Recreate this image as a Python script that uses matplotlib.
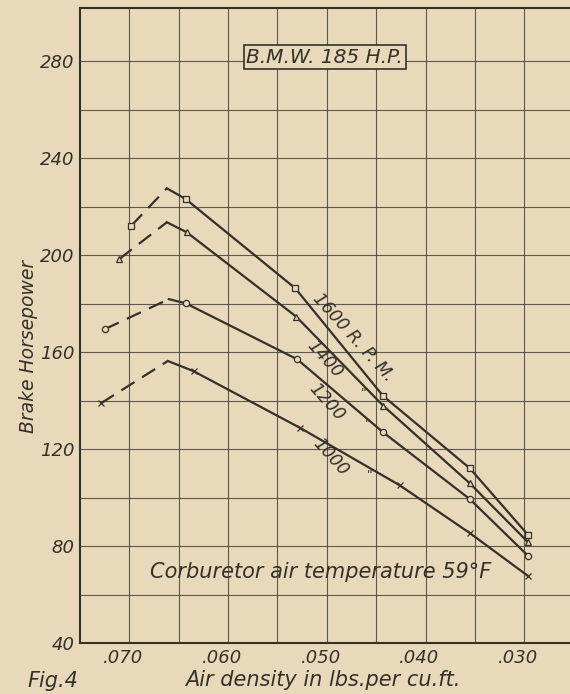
import matplotlib.pyplot as plt
import matplotlib.transforms as mtransforms
import numpy as np

# Lecture des courbes sur la figure (densite en lbs/cu.ft, puissance en HP)
rpm_labels = ['1600 R. P. M.', '1400', '1200', '1000']
markers = ['s', '^', 'o', 'x']

# premier point (partie en tirets) -> pic
first_dens = [0.0698, 0.0710, 0.0725, 0.0729]
first_hp = [212.1, 198.4, 169.4, 138.8]
peak_dens = [0.0662, 0.0662, 0.0660, 0.0661]
peak_hp = [227.5, 213.5, 181.8, 156.3]

# points mesures (partie pleine)
dens_1600 = [0.0643, 0.0532, 0.0443, 0.0355, 0.0296]
hp_1600 = [223.1, 186.3, 141.9, 112.0, 84.5]
dens_1400 = [0.0642, 0.0531, 0.0443, 0.0355, 0.0296]
hp_1400 = [209.4, 174.6, 137.9, 105.8, 81.5]
dens_1200 = [0.0643, 0.0530, 0.0443, 0.0355, 0.0296]
hp_1200 = [180.1, 157.0, 126.9, 99.3, 75.9]
dens_1000 = [0.0635, 0.0527, 0.0426, 0.0355, 0.0296]
hp_1000 = [152.1, 128.7, 105.0, 85.3, 67.6]

solid_dens = [dens_1600, dens_1400, dens_1200, dens_1000]
solid_hp = [hp_1600, hp_1400, hp_1200, hp_1000]

# position des etiquettes des courbes
lab_dens = [0.0473, 0.0502, 0.0500, 0.0496]
lab_hp = [166.0, 157.0, 139.5, 116.5]
ditto_dens = [0.0463, 0.0459, 0.0457]
ditto_hp = [143.0, 130.0, 109.0]

x_ticks = [0.070, 0.060, 0.050, 0.040, 0.030]
y_ticks = [40, 80, 120, 160, 200, 240, 280]

bg = '#e7d9ba'
ink = '#35302a'
font = dict(family='DejaVu Sans', style='italic', color=ink)

fig = plt.figure(figsize=(5.7, 6.94), dpi=100, facecolor=bg)
ax = fig.add_axes([80/570, 51/694, 490/570, 635/694])
ax.set_facecolor(bg)

for k in range(4):
    ax.plot([first_dens[k], peak_dens[k]], [first_hp[k], peak_hp[k]],
            color=ink, lw=1.6, dashes=(7, 4))
    ax.plot([peak_dens[k]] + solid_dens[k], [peak_hp[k]] + solid_hp[k],
            color=ink, lw=1.6)
    ax.plot([first_dens[k]] + solid_dens[k], [first_hp[k]] + solid_hp[k],
            ls='none', marker=markers[k], ms=4.5, mfc=bg, mec=ink, mew=0.9)
    ax.text(lab_dens[k], lab_hp[k], rpm_labels[k], rotation=-48,
            ha='center', va='center', fontsize=12.5, **font)

for k in range(3):
    ax.text(ditto_dens[k], ditto_hp[k], '"', ha='center', va='center',
            fontsize=9, **font)

ax.text(0.0506, 69.3, 'Corburetor air temperature 59°F', ha='center',
        va='center', fontsize=15, **font)
ax.text(0.0502, 281.6, 'B.M.W. 185 H.P.', ha='center', va='center',
        fontsize=14.5, **font,
        bbox=dict(boxstyle='square,pad=0.12', fc=bg, ec=ink, lw=1.2))

ax.set_xlim(0.075, 0.075 - 490*0.0001013)
ax.set_ylim(40, 40 + 635/2.425)
ax.set_xticks(x_ticks)
ax.set_xticklabels(['.%03d' % round(v*1000) for v in x_ticks], fontsize=13, **font)
ax.set_xticks(np.arange(0.070, 0.029, -0.005), minor=True)
ax.set_yticks(y_ticks)
ax.set_yticklabels([str(v) for v in y_ticks], fontsize=13, **font)
ax.set_yticks(np.arange(40, 300, 20), minor=True)
ax.tick_params(which='both', length=0, pad=4)
ax.grid(which='both', color='#3d3830', lw=0.8, alpha=0.8)
ax.set_axisbelow(True)

# decalage des etiquettes x vers la gauche (ecriture penchee)
shift = mtransforms.ScaledTranslation(-6/100, 0, fig.dpi_scale_trans)
for lab in ax.get_xticklabels():
    lab.set_transform(lab.get_transform() + shift)

for s in ['left', 'bottom', 'top']:
    ax.spines[s].set_color(ink)
    ax.spines[s].set_linewidth(1.5)
ax.spines['right'].set_visible(False)

fig.text(29/570, 1 - 346/694, 'Brake Horsepower', rotation=90, ha='center',
         va='center', fontsize=13.5, **font)
fig.text(323/570, 1 - 680/694, 'Air density in lbs.per cu.ft.', ha='center',
         va='center', fontsize=15, **font)
fig.text(53/570, 1 - 681/694, 'Fig.4', ha='center', va='center',
         fontsize=15, **font)

fig.savefig('out.png', dpi=100, facecolor=bg)
